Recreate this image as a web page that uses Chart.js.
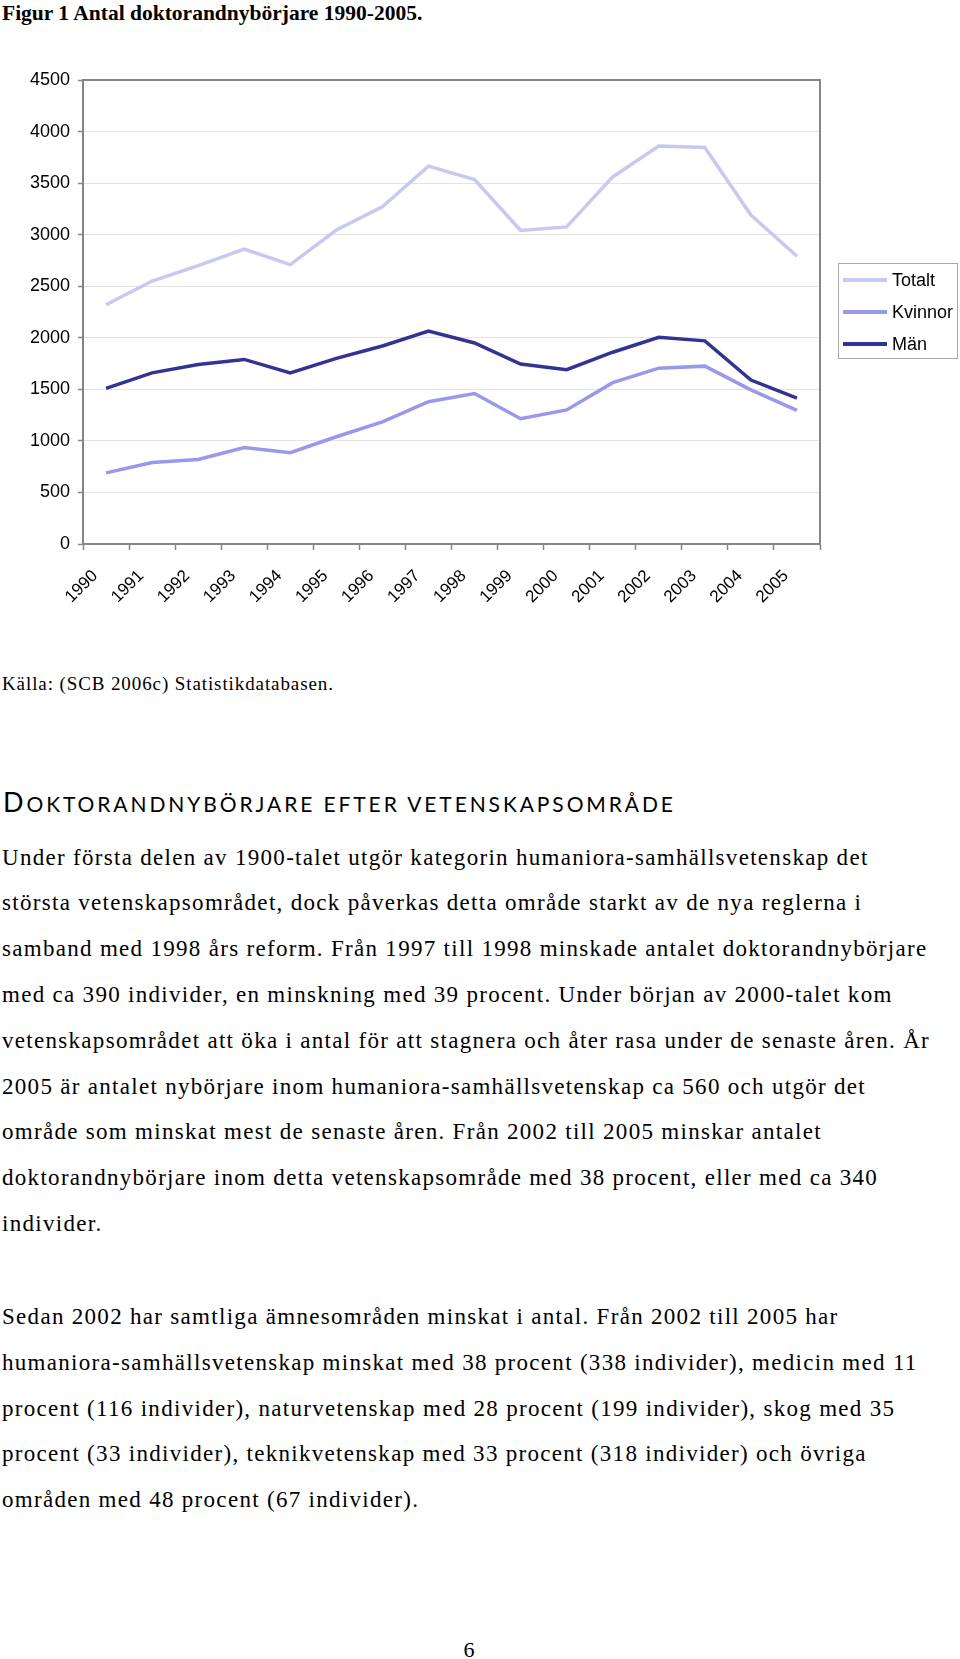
<!DOCTYPE html>
<html>
<head>
<meta charset="utf-8">
<script src="https://cdn.jsdelivr.net/npm/chart.js@4.4.1/dist/chart.umd.min.js"></script>
<style>
  body { margin: 0; width: 960px; height: 1659px; background: #fff; overflow: hidden; position: relative; color: #000; font-family: "Liberation Serif", serif; }
  .t { position: absolute; white-space: nowrap; }
  #title { left: 2px; top: 1px; font-size: 21.5px; line-height: 24px; font-weight: bold; }
  #chartBox { position: absolute; left: 0; top: 60px; width: 960px; height: 560px; }
  #legend { position: absolute; left: 838px; top: 263px; width: 118px; height: 94px; border: 1px solid #a8a8a8; font-family: "Liberation Sans", Arial, sans-serif; font-size: 18px; }
  #legend .row { display: flex; align-items: center; height: 32px; }
  #legend .swatch { width: 44px; height: 4px; margin-left: 4px; margin-right: 5px; }
  #source { left: 2px; top: 672px; font-size: 19px; line-height: 24px; letter-spacing: 0.9px; }
  #heading { left: 3px; top: 788px; font-family: Lato, sans-serif; font-size: 21px; line-height: 1; letter-spacing: 2.9px; }
  #heading .cap { font-size: 27px; }
  .body { left: 2px; font-size: 23px; line-height: 45.8px; letter-spacing: 1.3px; }
  #p1 { top: 834.6px; }
  #p2 { top: 1294px; }
  #page { left: 463.5px; top: 1638px; font-size: 22px; line-height: 24px; }
</style>
</head>
<body>
<div class="t" id="title">Figur 1 Antal doktorandnybörjare 1990-2005.</div>
<div id="chartBox"><canvas id="lineChart" width="960" height="560"></canvas></div>
<div id="legend"></div>
<div class="t" id="source">Källa: (SCB 2006c) Statistikdatabasen.</div>
<div class="t" id="heading"><span class="cap">D</span>OKTORANDNYBÖRJARE EFTER VETENSKAPSOMRÅDE</div>
<div class="t body" id="p1">Under första delen av 1900-talet utgör kategorin humaniora-samhällsvetenskap det<br>största vetenskapsområdet, dock påverkas detta område starkt av de nya reglerna i<br>samband med 1998 års reform. Från 1997 till 1998 minskade antalet doktorandnybörjare<br>med ca 390 individer, en minskning med 39 procent. Under början av 2000-talet kom<br>vetenskapsområdet att öka i antal för att stagnera och åter rasa under de senaste åren. År<br>2005 är antalet nybörjare inom humaniora-samhällsvetenskap ca 560 och utgör det<br>område som minskat mest de senaste åren. Från 2002 till 2005 minskar antalet<br>doktorandnybörjare inom detta vetenskapsområde med 38 procent, eller med ca 340<br>individer.</div>
<div class="t body" id="p2">Sedan 2002 har samtliga ämnesområden minskat i antal. Från 2002 till 2005 har<br>humaniora-samhällsvetenskap minskat med 38 procent (338 individer), medicin med 11<br>procent (116 individer), naturvetenskap med 28 procent (199 individer), skog med 35<br>procent (33 individer), teknikvetenskap med 33 procent (318 individer) och övriga<br>områden med 48 procent (67 individer).</div>
<div class="t" id="page">6</div>

<script>
// Data
const years = ['1990', '1991', '1992', '1993', '1994', '1995', '1996', '1997',
               '1998', '1999', '2000', '2001', '2002', '2003', '2004', '2005'];
const totalt  = [2320, 2550, 2700, 2860, 2710, 3045, 3270, 3665, 3535, 3040, 3075, 3560, 3860, 3845, 3190, 2790];
const kvinnor = [690, 790, 820, 935, 885, 1040, 1185, 1380, 1460, 1215, 1300, 1565, 1705, 1725, 1495, 1295];
const man     = [1510, 1660, 1740, 1790, 1660, 1800, 1920, 2065, 1950, 1745, 1690, 1860, 2005, 1970, 1590, 1415];
const yTicks  = [0, 500, 1000, 1500, 2000, 2500, 3000, 3500, 4000, 4500];

const seriesNames  = ['Totalt', 'Kvinnor', 'Män'];
const seriesColors = ['#c8c8f0', '#9999ec', '#333394'];
const axisGray = '#858585';

// gray frame on top and right of the plot area
const plotBorder = {
  id: 'plotBorder',
  beforeDatasetsDraw(chart) {
    const { ctx, chartArea: a } = chart;
    ctx.save();
    ctx.strokeStyle = axisGray;
    ctx.lineWidth = 2;
    ctx.beginPath();
    ctx.moveTo(a.left, a.top);
    ctx.lineTo(a.right, a.top);
    ctx.lineTo(a.right, a.bottom);
    ctx.stroke();
    ctx.restore();
  }
};

const ctx = document.getElementById('lineChart').getContext('2d');
const lineChart = new Chart(ctx, {
  type: 'line',
  data: {
    labels: years,
    datasets: [totalt, kvinnor, man].map((vals, i) => ({
      label: seriesNames[i],
      data: vals,
      borderColor: seriesColors[i],
      backgroundColor: seriesColors[i],
      borderWidth: 3.5,
      pointRadius: 0,
      tension: 0,
      fill: false
    }))
  },
  options: {
    responsive: false,
    animation: false,
    devicePixelRatio: 1,
    layout: { padding: { left: 0, top: 20, right: 140, bottom: 0 } },
    plugins: {
      legend: { display: false },
      tooltip: { enabled: false }
    },
    scales: {
      x: {
        offset: true,
        grid: { offset: true, drawOnChartArea: false, drawTicks: true, tickLength: 6, tickColor: axisGray, tickWidth: 1.5 },
        border: { color: axisGray, width: 2 },
        ticks: {
          autoSkip: false, minRotation: 45, maxRotation: 45,
          labelOffset: -11, padding: 16, color: '#000',
          font: { family: 'Liberation Sans', size: 17 }
        },
        afterFit(s) { s.height = 76; }
      },
      y: {
        min: yTicks[0],
        max: yTicks[yTicks.length - 1],
        grid: { color: '#e4e4e4', lineWidth: 1, tickLength: 5, tickColor: axisGray, tickWidth: 1.5 },
        border: { color: axisGray, width: 2 },
        ticks: {
          stepSize: yTicks[1] - yTicks[0], padding: 8, color: '#000',
          font: { family: 'Liberation Sans', size: 18 },
          callback: (v) => String(v)
        },
        afterFit(s) { s.width = 83; }
      }
    }
  },
  plugins: [plotBorder]
});

// legend box built from the chart's datasets
const legendEl = document.getElementById('legend');
lineChart.data.datasets.forEach(ds => {
  const row = document.createElement('div');
  row.className = 'row';
  const sw = document.createElement('span');
  sw.className = 'swatch';
  sw.style.background = ds.borderColor;
  const txt = document.createElement('span');
  txt.textContent = ds.label;
  row.appendChild(sw);
  row.appendChild(txt);
  legendEl.appendChild(row);
});
</script>
</body>
</html>
